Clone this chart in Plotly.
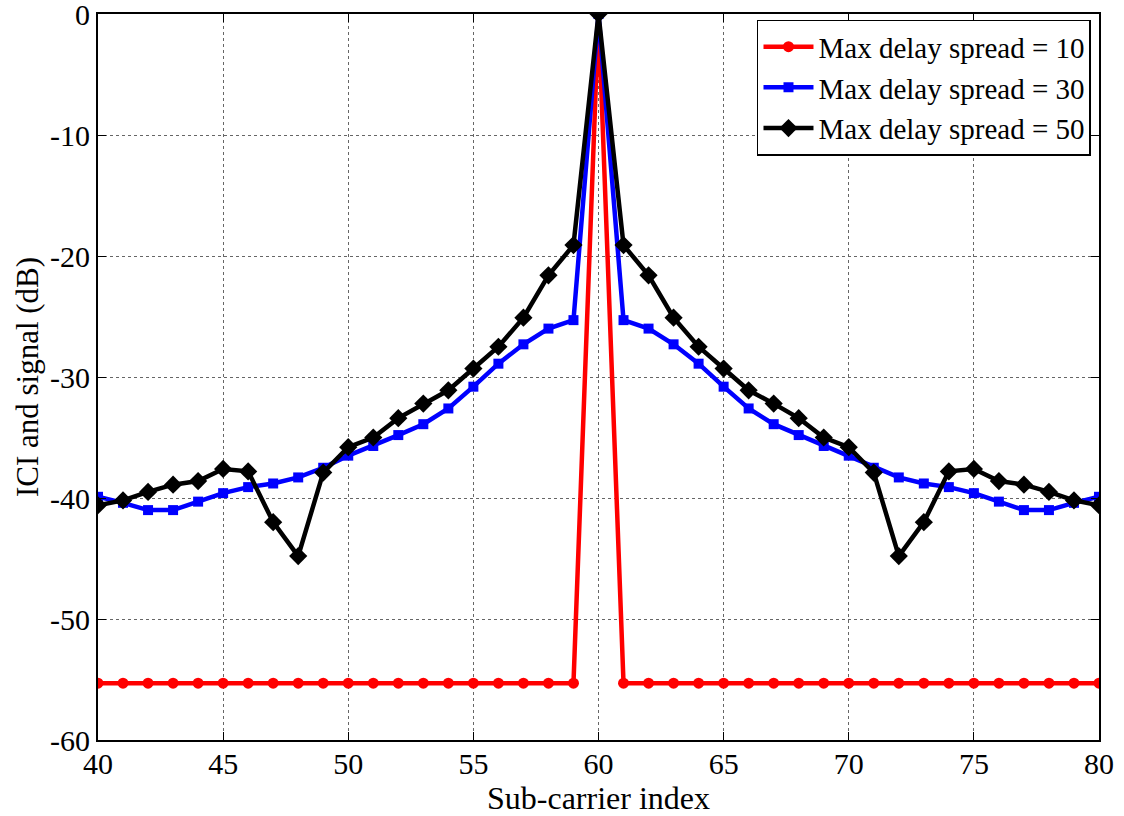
import plotly.graph_objects as go

x = list(range(40, 81))

left_red = [-55.3] * 20
red = left_red + [0.0] + left_red[::-1]

left_blue = [-39.9, -40.4, -41.0, -41.0, -40.3, -39.6, -39.1, -38.8, -38.3, -37.5,
             -36.5, -35.7, -34.8, -33.9, -32.6, -30.8, -28.9, -27.3, -26.0, -25.3]
blue = left_blue + [0.0] + left_blue[::-1]

left_black = [-40.6, -40.2, -39.5, -38.9, -38.6, -37.6, -37.8, -42.0, -44.8, -37.9,
              -35.8, -35.0, -33.4, -32.2, -31.1, -29.3, -27.5, -25.1, -21.6, -19.1]
black = left_black + [0.0] + left_black[::-1]

xticks = [40, 45, 50, 55, 60, 65, 70, 75, 80]
yticks = [-60, -50, -40, -30, -20, -10, 0]
yticklabels = ["-60", "-50", "-40", "-30", "-20", "-10", "0"]

names = ["Max delay spread = 10", "Max delay spread = 30", "Max delay spread = 50"]
colors = ["#ff0000", "#0000ff", "#000000"]
symbols = ["circle", "square", "diamond"]
sizes = [11, 10, 14]
series = [red, blue, black]

fig = go.Figure()
for y, n, c, s, sz in zip(series, names, colors, symbols, sizes):
    fig.add_trace(go.Scatter(x=x, y=y, name=n, mode="lines+markers",
                             line=dict(color=c, width=4.5),
                             marker=dict(symbol=s, size=sz, color=c)))

font = "Liberation Serif"
fig.update_layout(
    width=1124, height=816,
    margin=dict(l=98, r=25, t=14, b=76, autoexpand=False),
    paper_bgcolor="white", plot_bgcolor="white",
    font=dict(family=font, size=30, color="black"),
    showlegend=True,
    legend=dict(x=0.992, y=0.992, xanchor="right", yanchor="top",
                bgcolor="white", bordercolor="black", borderwidth=1.5,
                font=dict(family=font, size=29), tracegroupgap=0,
                itemwidth=50),
    xaxis=dict(range=[40, 80], tickvals=xticks, automargin=False,
               showgrid=True, gridcolor="#666", griddash="dot", gridwidth=1,
               showline=True, linecolor="black", linewidth=2, mirror="ticks",
               ticks="inside", ticklen=8, tickcolor="black", zeroline=False,
               ticklabeloverflow="allow", ticklabelstandoff=-4,
               title=dict(text="Sub-carrier index", font=dict(size=32), standoff=4),
               tickfont=dict(size=30)),
    yaxis=dict(range=[-60, 0], tickvals=yticks, ticktext=yticklabels, automargin=False,
               showgrid=True, gridcolor="#666", griddash="dot", gridwidth=1,
               showline=True, linecolor="black", linewidth=2, mirror="ticks",
               ticks="inside", ticklen=8, tickcolor="black", zeroline=False,
               ticklabeloverflow="allow",
               title=dict(text="ICI and signal (dB)", font=dict(size=31), standoff=2),
               tickfont=dict(size=30)),
)
fig.write_html("out.html")
